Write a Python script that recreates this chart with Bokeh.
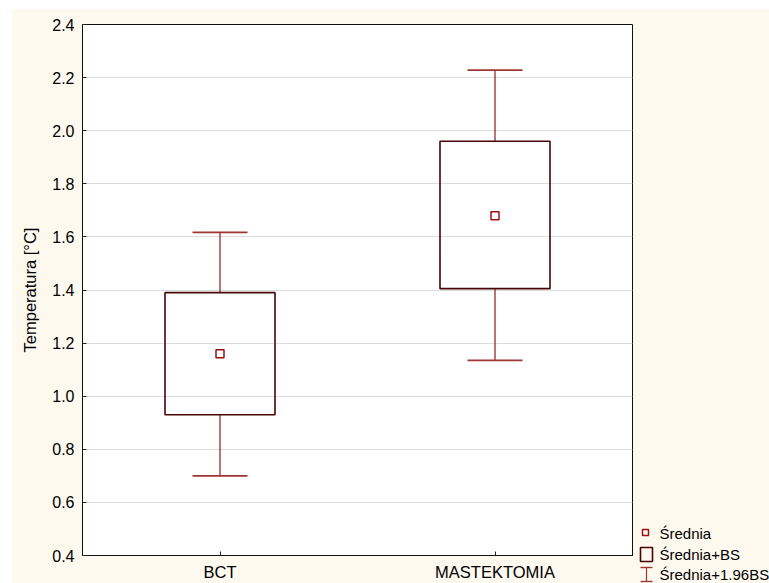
from bokeh.plotting import figure
from bokeh.models import Range1d, FactorRange, FixedTicker, ColumnDataSource
from bokeh.core.properties import value
from bokeh.embed import file_html
from bokeh.resources import INLINE

# ---- data ----
categories = ["BCT", "MASTEKTOMIA"]
mean = [1.16, 1.68]
mean_minus_sd = [0.93, 1.405]
mean_plus_sd = [1.39, 1.96]
mean_minus_196sd = [0.70, 1.135]
mean_plus_196sd = [1.617, 2.228]
y_ticks = [0.4, 0.6, 0.8, 1.0, 1.2, 1.4, 1.6, 1.8, 2.0, 2.2, 2.4]
y_tick_labels = ["0.4", "0.6", "0.8", "1.0", "1.2", "1.4", "1.6", "1.8", "2.0", "2.2", "2.4"]
y_label = "Temperatura [°C]"
legend_labels = ["Średnia", "Średnia+BS", "Średnia+1.96BS"]

FONT = "Liberation Sans"
CREAM = "#FEF9EF"
MEAN_COL = "#9a1010"
BOX_COL = "#4a0606"
WHISK_COL = "#8b1a1a"
CAP_COL = "#a03535"

# frame geometry (pixels)
FRAME_W, FRAME_H = 550, 531
Y0, Y1 = 0.4, 2.4
N_CAT = len(categories)

src = ColumnDataSource(dict(
    cat=categories, mean=mean, lo=mean_minus_sd, hi=mean_plus_sd,
    lo2=mean_minus_196sd, hi2=mean_plus_196sd,
))

p = figure(
    width=758, height=575,
    x_range=FactorRange(factors=categories, range_padding=0),
    y_range=Range1d(Y0, Y1),
    output_backend="svg", toolbar_location=None,
    min_border_left=71, min_border_right=137, min_border_top=16, min_border_bottom=28,
    background_fill_color="white", border_fill_color=CREAM,
)
p.margin = (8, 0, 0, 11)
p.outline_line_color = "#111111"
p.outline_line_width = 1

p.xgrid.grid_line_color = None
p.ygrid.grid_line_color = "#dcdcdc"
p.ygrid.grid_line_width = 1
p.yaxis.ticker = FixedTicker(ticks=y_ticks)
p.yaxis.major_label_overrides = {t: l for t, l in zip(y_ticks, y_tick_labels)}

for ax in (p.xaxis[0], p.yaxis[0]):
    ax.axis_line_color = "#111111"
    ax.major_tick_in = 4
    ax.major_tick_out = 0
    ax.minor_tick_line_color = None
    ax.major_tick_line_color = "#222222"
    ax.major_label_text_font = FONT
    ax.major_label_text_color = "black"
    ax.major_label_standoff = 8

p.yaxis.major_label_text_font_size = "16px"
p.xaxis.major_label_text_font_size = "16.5px"
p.xaxis.major_label_standoff = 7
p.yaxis.axis_label = y_label
p.yaxis.axis_label_text_font = FONT
p.yaxis.axis_label_text_font_size = "16.5px"
p.yaxis.axis_label_text_font_style = "normal"
p.yaxis.axis_label_text_color = "black"
p.yaxis.axis_label_standoff = 10

# whiskers
p.segment(x0="cat", y0="lo2", x1="cat", y1="lo", source=src, line_color=WHISK_COL, line_width=1.2)
p.segment(x0="cat", y0="hi", x1="cat", y1="hi2", source=src, line_color=WHISK_COL, line_width=1.2)
p.scatter(x="cat", y="lo2", source=src, marker="dash", size=55, line_color=CAP_COL, line_width=1.6)
p.scatter(x="cat", y="hi2", source=src, marker="dash", size=55, line_color=CAP_COL, line_width=1.6)
# boxes
p.vbar(x="cat", width=0.4, bottom="lo", top="hi", source=src,
       fill_color=None, line_color=BOX_COL, line_width=1.6)
# means
p.scatter(x="cat", y="mean", source=src, marker="square", size=8,
          fill_color="white", line_color=MEAN_COL, line_width=1.5)

# ---- legend, drawn outside the frame at the overlay level (not clipped) ----
def lx(px):  # pixel offset from frame left -> synthetic x
    return px * N_CAT / FRAME_W

def ly(px):  # pixel offset below frame bottom -> data y
    return Y0 - px * (Y1 - Y0) / FRAME_H

p.quad(left=[lx(560)], right=[lx(566)], top=[ly(-26)], bottom=[ly(-20)], fill_color=None,
       line_color=MEAN_COL, line_width=1.5, level="overlay")
p.quad(left=[lx(558)], right=[lx(570)], top=[ly(-8)], bottom=[ly(6)], fill_color=None,
       line_color=BOX_COL, line_width=1.6, level="overlay")
p.segment(x0=[lx(564)], y0=[ly(12)], x1=[lx(564)], y1=[ly(26)],
          line_color=CAP_COL, line_width=1.2, level="overlay")
p.segment(x0=[lx(558), lx(558)], y0=[ly(12), ly(26)], x1=[lx(570), lx(570)], y1=[ly(12), ly(26)],
          line_color=CAP_COL, line_width=1.4, level="overlay")
p.text(x=[lx(577)] * 3, y=[ly(-22), ly(-1), ly(19)], text=legend_labels,
       text_font=value(FONT), text_font_size="15px", text_color="black",
       text_baseline="middle", text_align="left", level="overlay")

open("out.html", "w").write(file_html(p, INLINE))
